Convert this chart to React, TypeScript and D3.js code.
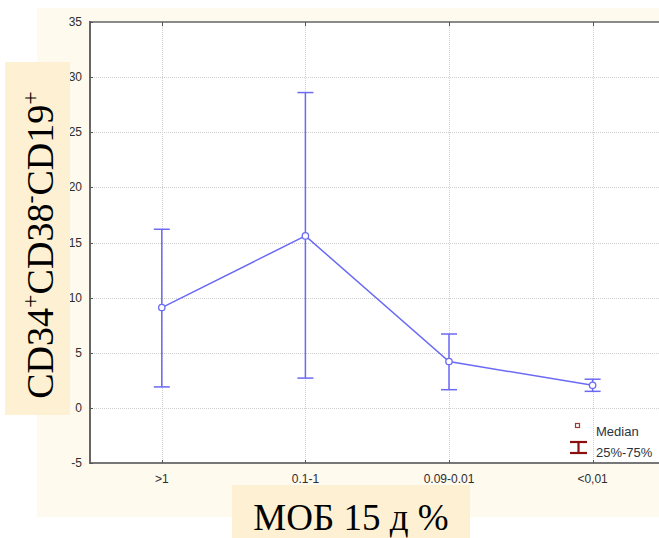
import React, { useEffect, useRef } from "react";
import * as d3 from "d3";

const categories = [">1", "0.1-1", "0.09-0.01", "<0,01"];
const medians = [9.1, 15.6, 4.2, 2.05];
const q1 = [1.9, 2.7, 1.65, 1.5];
const q3 = [16.2, 28.6, 6.7, 2.6];
const yTicks = [-5, 0, 5, 10, 15, 20, 25, 30, 35];

const WIDTH = 659;
const HEIGHT = 538;
const LINE = "#6a6af5";

const App = () => {
  const ref = useRef<SVGSVGElement>(null);

  useEffect(() => {
    const svg = d3.select(ref.current);
    svg.selectAll("*").remove();

    const left = 90;
    const top = 22;
    const bottom = 463;
    const step = 143.6;
    const right = left + step * categories.length;

    const x = d3
      .scalePoint<string>()
      .domain(categories)
      .range([left + step / 2, right - step / 2]);
    const y = d3.scaleLinear().domain([-5, 35]).range([bottom, top]);

    // cream panel
    svg.append("rect").attr("x", 37).attr("y", 8).attr("width", WIDTH - 37).attr("height", 509).attr("fill", "#fffaee");
    svg.append("rect").attr("x", left).attr("y", top).attr("width", right - left).attr("height", bottom - top).attr("fill", "#fff");

    // grid
    const grid = svg.append("g").attr("stroke", "#cfcfcf").attr("stroke-dasharray", "1,1").attr("stroke-width", 1);
    grid
      .selectAll("line.h")
      .data(yTicks.filter((t) => t > -5 && t < 35))
      .join("line")
      .attr("x1", left)
      .attr("x2", right)
      .attr("y1", (d) => Math.round(y(d)) + 0.5)
      .attr("y2", (d) => Math.round(y(d)) + 0.5);
    grid
      .selectAll("line.v")
      .data(categories)
      .join("line")
      .attr("x1", (d) => Math.round(x(d)!) + 0.5)
      .attr("x2", (d) => Math.round(x(d)!) + 0.5)
      .attr("y1", top)
      .attr("y2", bottom);

    // frame
    svg.append("line").attr("x1", left).attr("x2", right).attr("y1", top).attr("y2", top).attr("stroke", "#8a8a8a").attr("stroke-width", 2);
    svg.append("line").attr("x1", left).attr("x2", right).attr("y1", bottom).attr("y2", bottom).attr("stroke", "#777").attr("stroke-width", 2);
    svg.append("line").attr("x1", left).attr("x2", left).attr("y1", top - 1).attr("y2", bottom + 1).attr("stroke", "#666").attr("stroke-width", 2);

    // small ticks
    const ticks = svg.append("g").attr("stroke", "#555").attr("stroke-width", 1);
    categories.forEach((c) => {
      const cx = Math.round(x(c)!) + 0.5;
      ticks.append("line").attr("x1", cx).attr("x2", cx).attr("y1", top).attr("y2", top + 4);
      ticks.append("line").attr("x1", cx).attr("x2", cx).attr("y1", bottom - 3).attr("y2", bottom);
    });
    yTicks.forEach((t) => {
      const ty = Math.round(y(t)) + 0.5;
      ticks.append("line").attr("x1", left).attr("x2", left + 3).attr("y1", ty).attr("y2", ty);
    });

    // tick labels
    svg
      .append("g")
      .selectAll("text")
      .data(yTicks)
      .join("text")
      .attr("x", 82)
      .attr("y", (d) => y(d) + 4)
      .attr("text-anchor", "end")
      .attr("font-family", "Liberation Sans, Arial, sans-serif")
      .attr("font-size", 12)
      .attr("fill", "#2e2e2e")
      .text((d) => d);
    svg
      .append("g")
      .selectAll("text")
      .data(categories)
      .join("text")
      .attr("x", (d) => x(d)!)
      .attr("y", 483)
      .attr("text-anchor", "middle")
      .attr("font-family", "Liberation Sans, Arial, sans-serif")
      .attr("font-size", 12)
      .attr("fill", "#2e2e2e")
      .text((d) => d);

    // error bars
    const bars = svg.append("g").attr("stroke", LINE).attr("stroke-width", 1.5);
    categories.forEach((c, i) => {
      const cx = x(c)!;
      bars.append("line").attr("x1", cx).attr("x2", cx).attr("y1", y(q1[i])).attr("y2", y(q3[i]));
      bars.append("line").attr("x1", cx - 8).attr("x2", cx + 8).attr("y1", y(q1[i])).attr("y2", y(q1[i]));
      bars.append("line").attr("x1", cx - 8).attr("x2", cx + 8).attr("y1", y(q3[i])).attr("y2", y(q3[i]));
    });

    const line = d3
      .line<number>()
      .x((d, i) => x(categories[i])!)
      .y((d) => y(d));
    svg.append("path").datum(medians).attr("d", line).attr("fill", "none").attr("stroke", LINE).attr("stroke-width", 1.5);

    svg
      .append("g")
      .selectAll("circle")
      .data(medians)
      .join("circle")
      .attr("cx", (d, i) => x(categories[i])!)
      .attr("cy", (d) => y(d))
      .attr("r", 3.2)
      .attr("fill", "#fff")
      .attr("stroke", LINE)
      .attr("stroke-width", 1.3);

    // legend
    svg.append("rect").attr("x", 575.5).attr("y", 423.5).attr("width", 4).attr("height", 4).attr("fill", "#fff").attr("stroke", "#a03a3a").attr("stroke-width", 1.2);
    const lg = svg.append("g").attr("stroke", "#8b0f0f").attr("stroke-width", 2.2);
    lg.append("line").attr("x1", 570).attr("x2", 587).attr("y1", 442).attr("y2", 442);
    lg.append("line").attr("x1", 570).attr("x2", 587).attr("y1", 453).attr("y2", 453);
    lg.append("line").attr("x1", 578.5).attr("x2", 578.5).attr("y1", 442).attr("y2", 453);
    [
      ["Median", 436],
      ["25%-75%", 456.5],
    ].forEach(([t, ty]) => {
      svg
        .append("text")
        .attr("x", 596)
        .attr("y", ty as number)
        .attr("font-family", "Liberation Sans, Arial, sans-serif")
        .attr("font-size", 13)
        .attr("fill", "#2c3340")
        .text(t as string);
    });

    // y label box
    svg.append("rect").attr("x", 5).attr("y", 62).attr("width", 65).attr("height", 353).attr("fill", "#fdf0d3");
    const yl = svg
      .append("text")
      .attr("transform", "translate(53,245) rotate(-90)")
      .attr("text-anchor", "middle")
      .attr("font-family", "Liberation Serif, Times New Roman, serif")
      .attr("font-size", 38)
      .attr("fill", "#000");
    const parts: [string, boolean][] = [
      ["CD34", false],
      ["+", true],
      ["CD38", false],
      ["-", true],
      ["CD19", false],
      ["+", true],
    ];
    let raised = false;
    parts.forEach(([t, sup]) => {
      const dy = sup && !raised ? -15 : !sup && raised ? 15 : 0;
      raised = sup;
      yl.append("tspan").attr("dy", dy).attr("font-size", sup ? 24 : 38).text(t);
    });

    // x label box
    svg.append("rect").attr("x", 232).attr("y", 485).attr("width", 238).attr("height", 53).attr("fill", "#fdf0d3");
    svg
      .append("text")
      .attr("x", 351)
      .attr("y", 530)
      .attr("text-anchor", "middle")
      .attr("font-family", "Liberation Serif, Times New Roman, serif")
      .attr("font-size", 37)
      .attr("fill", "#000")
      .text("МОБ 15 д %");
  }, []);

  return <svg ref={ref} width={WIDTH} height={HEIGHT} style={{ position: "absolute", left: 0, top: 0 }} />;
};

export default App;
